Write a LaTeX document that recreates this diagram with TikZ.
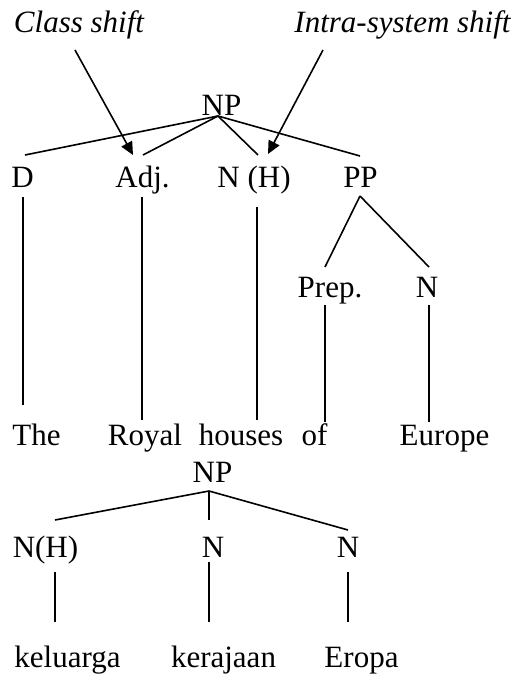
\documentclass[tikz,border=0pt]{standalone}
\usepackage{fontspec}
\setmainfont{Liberation Serif}
\usetikzlibrary{arrows.meta}
\begin{document}
\begin{tikzpicture}[x=1pt,y=-1pt,
  lbl/.style={anchor=base,inner sep=0pt,font=\fontsize{31}{35}\selectfont},
  ilbl/.style={lbl,font=\fontsize{31}{35}\selectfont\itshape},
  edge/.style={line width=1.6pt},
  arr/.style={edge,-{Triangle[length=13pt,width=12pt]}}]
\useasboundingbox (0,0) rectangle (527,675);
% labels
\node[ilbl] (cls) at (79,32) {Class shift};
\node[ilbl] (intra) at (402.5,32) {Intra-system shift};
\node[lbl] (np1) at (221.5,115) {NP};
\node[lbl] (d) at (22.5,187) {D};
\node[lbl] (adj) at (142.5,187) {Adj.};
\node[lbl] (nh) at (254,187) {N (H)};
\node[lbl] (pp) at (360.5,187) {PP};
\node[lbl] (prep) at (330,297) {Prep.};
\node[lbl] (npp) at (427,297) {N};
\node[lbl] (the) at (36.5,445) {The};
\node[lbl] (royal) at (145,445) {Royal};
\node[lbl] (houses) at (241,445) {houses};
\node[lbl] (of) at (314.5,445) {of};
\node[lbl] (europe) at (444.5,445) {Europe};
\node[lbl] (np2) at (212.5,482) {NP};
\node[lbl] (nh2) at (45.5,557) {N(H)};
\node[lbl] (n2) at (213,557) {N};
\node[lbl] (n3) at (348,557) {N};
\node[lbl] (kel) at (67.5,667) {keluarga};
\node[lbl] (ker) at (223.5,667) {kerajaan};
\node[lbl] (ero) at (361.5,667) {Eropa};
% connector end points
\coordinate (cls-b) at (75,50);
\coordinate (intra-b) at (323,50);
\coordinate (adj-a) at (133,155);
\coordinate (nh-a) at (268,154);
\coordinate (np1-b) at (218,116);
\coordinate (d-t) at (25,155);
\coordinate (adj-t) at (143,155);
\coordinate (nh-t) at (258,155);
\coordinate (pp-t) at (360,156);
\coordinate (d-b) at (23,197);
\coordinate (the-t) at (23,405);
\coordinate (adj-b) at (142,197);
\coordinate (royal-t) at (142,420);
\coordinate (nh-b) at (257,207);
\coordinate (houses-t) at (257,420);
\coordinate (pp-b) at (360,196);
\coordinate (prep-t) at (325,267);
\coordinate (npp-t) at (429,267);
\coordinate (prep-b) at (325,305);
\coordinate (of-t) at (325,422);
\coordinate (npp-b) at (429,305);
\coordinate (europe-t) at (429,422);
\coordinate (np2-b) at (209,491);
\coordinate (nh2-t) at (55,520);
\coordinate (n2-t) at (209,520);
\coordinate (n3-t) at (348,530);
\coordinate (nh2-b) at (55,572);
\coordinate (kel-t) at (55,622);
\coordinate (n2-b) at (209,562);
\coordinate (ker-t) at (209,622);
\coordinate (n3-b) at (348,572);
\coordinate (ero-t) at (348,622);
% tree edges
\draw[edge] (np1-b) -- (d-t);
\draw[edge] (np1-b) -- (adj-t);
\draw[edge] (np1-b) -- (nh-t);
\draw[edge] (np1-b) -- (pp-t);
\draw[edge] (d-b) -- (the-t);
\draw[edge] (adj-b) -- (royal-t);
\draw[edge] (nh-b) -- (houses-t);
\draw[edge] (pp-b) -- (prep-t);
\draw[edge] (pp-b) -- (npp-t);
\draw[edge] (prep-b) -- (of-t);
\draw[edge] (npp-b) -- (europe-t);
\draw[edge] (np2-b) -- (nh2-t);
\draw[edge] (np2-b) -- (n2-t);
\draw[edge] (np2-b) -- (n3-t);
\draw[edge] (nh2-b) -- (kel-t);
\draw[edge] (n2-b) -- (ker-t);
\draw[edge] (n3-b) -- (ero-t);
% arrows
\draw[arr] (cls-b) -- (adj-a);
\draw[arr] (intra-b) -- (nh-a);
\end{tikzpicture}
\end{document}
